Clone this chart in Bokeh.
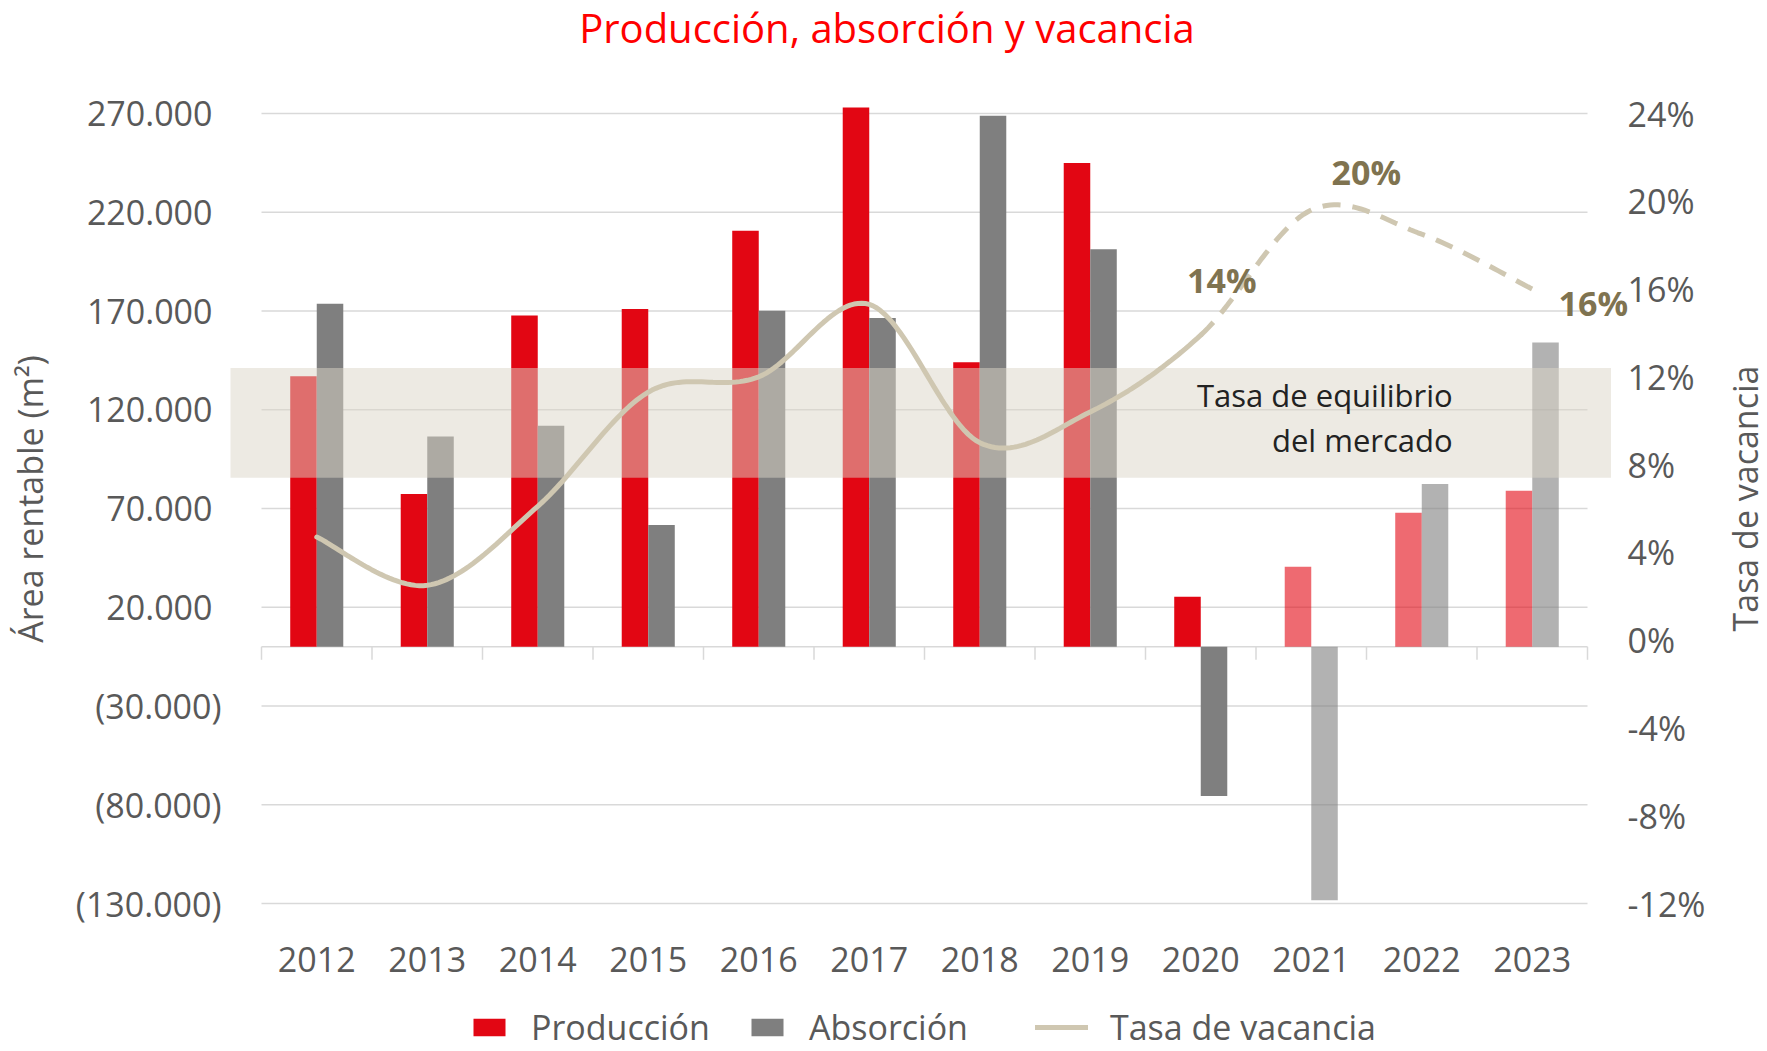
import numpy as np
from bokeh.plotting import figure
from bokeh.models import ColumnDataSource, Range1d, Legend, LegendItem, Label
from bokeh.core.properties import value
from bokeh.transform import dodge
from bokeh.embed import file_html
from bokeh.resources import INLINE

# ---------------- data ----------------
years = ["2012", "2013", "2014", "2015", "2016", "2017",
         "2018", "2019", "2020", "2021", "2022", "2023"]
produccion = [137000, 77300, 167700, 171000, 210600, 273100,
              144000, 244900, 25300, 40500, 67800, 79000]
absorcion = [173700, 106500, 111900, 61600, 170100, 166400,
             268800, 201300, -75600, -128300, 82400, 154100]
vacancia = [4.7, 2.5, 6.1, 11.3, 12.0, 15.3,
            9.0, 10.4, 13.9, 19.6, 18.5, 16.0]
proyectado = [False, False, False, False, False, False,
              False, False, False, True, True, True]
area_ticks = [-130000, -80000, -30000, 20000, 70000, 120000, 170000, 220000, 270000]
tasa_ticks = [-12, -8, -4, 0, 4, 8, 12, 16, 20, 24]
equilibrio = [7.4, 12.4]
etiquetados = ["2020", "2021", "2023"]
first_dashed = "2020"
titulo = "Producción, absorción y vacancia"
titulo_izq = "Área rentable (m²)"
titulo_der = "Tasa de vacancia"

# ---------------- style / layout (pixels) ----------------
FONT = "Open Sans"
TXT = "#595959"
RED = "#E20613"
GREY = "#7F7F7F"
LINE = "#CFC7B1"
GOLD = "#7F7350"
GRID = "#D9D9D9"

W, H = 1767, 1051
X0_PX, CAT = 316.25, 110.5        # centre of first category, px per category
TOP_PX, BOT_PX = 113, 903         # rows of top / bottom tick
BAND_L_PX, BAND_R_PX = 230, 1610.5
LEFT_LBL_PX, RIGHT_LBL_PX = 221, 1627

n = len(years)
xs = np.arange(n)
a_lo, a_hi = area_ticks[0], area_ticks[-1]
t_lo, t_hi = tasa_ticks[0], tasa_ticks[-1]
a_pp = (a_hi - a_lo) / (BOT_PX - TOP_PX)
t_pp = (t_hi - t_lo) / (BOT_PX - TOP_PX)

def px_x(px):
    return (px - X0_PX) / CAT

p = figure(width=W, height=H, output_backend="svg", toolbar_location=None,
           x_axis_location=None, y_axis_location=None,
           x_range=Range1d(px_x(0), px_x(W)),
           y_range=Range1d(a_lo - (H - BOT_PX) * a_pp, a_hi + TOP_PX * a_pp),
           min_border=0)
p.extra_y_ranges = {"pct": Range1d(t_lo - (H - BOT_PX) * t_pp, t_hi + TOP_PX * t_pp)}
p.outline_line_color = None
p.xgrid.visible = False
p.ygrid.visible = False
p.background_fill_color = "white"
p.border_fill_color = "white"

# titles
p.add_layout(Label(x=886.5, y=H - 27, x_units="screen", y_units="screen",
                   text=titulo, text_align="center", text_baseline="middle",
                   text_font=FONT, text_font_size="40px", text_color="#FF0000"))
p.add_layout(Label(x=29, y=H - 498.5, x_units="screen", y_units="screen",
                   text=titulo_izq, angle=np.pi / 2,
                   text_align="center", text_baseline="middle",
                   text_font=FONT, text_font_size="34px", text_color=TXT))
p.add_layout(Label(x=1744, y=H - 498, x_units="screen", y_units="screen",
                   text=titulo_der, angle=np.pi / 2,
                   text_align="center", text_baseline="middle",
                   text_font=FONT, text_font_size="34px", text_color=TXT))

# gridlines (only across category span)
p.segment(x0=-0.5, x1=n - 0.5, y0=area_ticks, y1=area_ticks,
          line_color=GRID, line_width=1.5)
# category axis at zero with tick marks
bounds = np.arange(n + 1) - 0.5
p.segment(x0=-0.5, x1=n - 0.5, y0=0, y1=0, line_color=GRID, line_width=1.5)
p.segment(x0=bounds, x1=bounds, y0=0, y1=-13 * a_pp, line_color=GRID, line_width=1.5)

# y tick labels (left: area, right: rate)
def fmt_area(v):
    s = f"{abs(v):,}".replace(",", ".")
    return f"({s})" if v < 0 else s

p.text(x=px_x(LEFT_LBL_PX), y=area_ticks, text=[fmt_area(v) for v in area_ticks],
       x_offset=[0 if v < 0 else -9 for v in area_ticks],
       text_align="right", text_baseline="middle",
       text_font=value(FONT), text_font_size="34px", text_color=TXT)
p.text(x=px_x(RIGHT_LBL_PX), y=tasa_ticks, text=[f"{v}%" for v in tasa_ticks],
       y_range_name="pct", text_align="left", text_baseline="middle",
       text_font=value(FONT), text_font_size="34px", text_color=TXT)

# category labels (years)
p.text(x=xs, y=[a_lo] * n, text=years, y_offset=56,
       text_align="center", text_baseline="middle",
       text_font=value(FONT), text_font_size="34px", text_color=TXT)

# bars
src = ColumnDataSource(dict(x=xs, prod=produccion, abso=absorcion,
                            alpha=[0.6 if f else 1.0 for f in proyectado]))
r_prod = p.vbar(x=dodge("x", -0.12), top="prod", width=0.24, source=src,
                fill_color=RED, fill_alpha="alpha", line_color=None)
r_abs = p.vbar(x=dodge("x", 0.12), top="abso", width=0.24, source=src,
               fill_color=GREY, fill_alpha="alpha", line_color=None)

# equilibrium band
p.quad(left=px_x(BAND_L_PX), right=px_x(BAND_R_PX),
       bottom=equilibrio[0], top=equilibrio[1], y_range_name="pct",
       fill_color="#DBD5C7", fill_alpha=0.5, line_color=None)
mid = (equilibrio[0] + equilibrio[1]) / 2
p.text(x=[n - 1.72, n - 1.72], y=[mid, mid], y_range_name="pct",
       text=["Tasa de equilibrio", "del mercado"], y_offset=[-28, 17],
       text_align="right", text_baseline="middle",
       text_font=value(FONT), text_font_size="31px", text_color="#222222")

# smoothed vacancy line (Excel-like Bezier smoothing)
def seg_curve(i, xv, yv, m=30):
    N = len(xv)
    x0, y0 = xv[max(i - 1, 0)], yv[max(i - 1, 0)]
    x1, y1 = xv[i], yv[i]
    x2, y2 = xv[i + 1], yv[i + 1]
    x3, y3 = xv[min(i + 2, N - 1)], yv[min(i + 2, N - 1)]
    c1x, c1y = x1 + (x2 - x0) / 6, y1 + (y2 - y0) / 6
    c2x, c2y = x2 - (x3 - x1) / 6, y2 - (y3 - y1) / 6
    t = np.linspace(0, 1, m)
    bx = (1 - t) ** 3 * x1 + 3 * (1 - t) ** 2 * t * c1x + 3 * (1 - t) * t ** 2 * c2x + t ** 3 * x2
    by = (1 - t) ** 3 * y1 + 3 * (1 - t) ** 2 * t * c1y + 3 * (1 - t) * t ** 2 * c2y + t ** 3 * y2
    return bx, by

k = years.index(first_dashed)
def curve(a, b):
    cx, cy = [], []
    for i in range(a, b):
        bx, by = seg_curve(i, xs.astype(float), vacancia)
        cx.extend(bx); cy.extend(by)
    return cx, cy

sx, sy = curve(0, k)
dx, dy = curve(k, n - 1)
r_line = p.line(sx, sy, y_range_name="pct", line_color=LINE, line_width=5, line_cap="round")
p.line(dx, dy, y_range_name="pct", line_color=LINE, line_width=5, line_dash="18 12")

# data labels
idx = [years.index(y) for y in etiquetados]
lab = ColumnDataSource(dict(x=[xs[i] for i in idx], y=[vacancia[i] for i in idx],
                            t=[f"{round(vacancia[i])}%" for i in idx],
                            xo=[21, 55, 61], yo=[-55, -38, 14]))
p.text(x="x", y="y", text="t", x_offset="xo", y_offset="yo", source=lab,
       y_range_name="pct", text_align="center", text_baseline="middle",
       text_font=value(FONT), text_font_size="34px", text_font_style="bold",
       text_color=GOLD)

# legends
common = dict(orientation="horizontal", padding=0, margin=0, border_line_alpha=0,
              background_fill_alpha=0, label_text_font=FONT,
              label_text_font_size="34px", label_text_color=TXT,
              glyph_height=22, label_standoff=22)
leg1 = Legend(items=[LegendItem(label="Producción", renderers=[r_prod]),
                     LegendItem(label="Absorción", renderers=[r_abs])],
              location=(469, 1), glyph_width=40, spacing=37, **common)
leg2 = Legend(items=[LegendItem(label="Tasa de vacancia", renderers=[r_line])],
              location=(1035, 1), glyph_width=53, **common)
p.add_layout(leg1)
p.add_layout(leg2)

open("out.html", "w").write(file_html(p, INLINE))
